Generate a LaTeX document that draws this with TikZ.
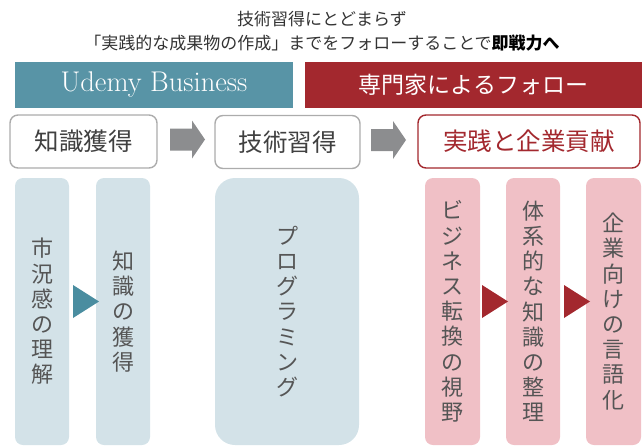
\documentclass[tikz,border=0pt]{standalone}
\usepackage{fontspec}
\newfontfamily\jp{Noto Sans CJK JP}
\usepackage{tikz}
\usetikzlibrary{positioning}
\definecolor{udemyteal}{RGB}{88,148,166}
\definecolor{followred}{RGB}{163,40,46}
\definecolor{paleteal}{RGB}{211,226,232}
\definecolor{palered}{RGB}{240,192,198}
\definecolor{triteal}{RGB}{74,141,160}
\definecolor{stepgray}{RGB}{140,141,143}
\definecolor{framegray}{RGB}{172,172,172}
\definecolor{inkgray}{RGB}{85,85,85}

\begin{document}
\begin{tikzpicture}[x=1pt, y=-1pt,
  title/.style={align=center, text=black!80, font=\jp\fontsize{17}{24}\selectfont},
  banner/.style={fill=#1, text=white, inner sep=0pt, minimum height=46pt},
  stepbox/.style={draw=#1, line width=1.4pt, rounded corners=8pt, fill=white, inner sep=0pt,
    minimum height=53pt, font=\jp\fontsize{24.5}{28}\selectfont},
  colbox/.style={fill=#1, rounded corners=8pt, inner sep=0pt, align=center, text=inkgray,
    minimum width=54pt, minimum height=267pt, font=\jp\fontsize{22}{25.2}\selectfont}]
  \useasboundingbox (0,0) rectangle (644,447);
  % heading
  \node[title] (ttl) at (322,31) {技術習得にとどまらず\\「実践的な成果物の作成」までをフォローすることで{\bfseries\color{black}即戦力へ}};
  % who follows
  \node[banner=udemyteal, minimum width=278pt, font=\fontsize{28.5}{32}\selectfont] (udemy) at (154,84.5) {Udemy Business};
  \node[banner=followred, minimum width=337pt, font=\jp\fontsize{23}{28}\selectfont] (expert) at (473.5,84.5) {専門家によるフォロー};
  % three steps
  \node[stepbox=framegray, text=black!75, minimum width=147pt] (know) at (83.5,141.5) {知識獲得};
  \node[stepbox=framegray, text=black!75, minimum width=145pt] (skill) at (287.5,142) {技術習得};
  \node[stepbox=followred, text=followred, minimum width=222pt] (contrib) at (529,141.5) {実践と企業貢献};
  \coordinate (a1) at (170,139.5);
  \coordinate (a2) at (371,140);
  \fill[stepgray] (a1) ++(0,-11) -- ++(22,0) -- ++(0,-8) -- ++(13,19) -- ++(-13,19) -- ++(0,-8) -- ++(-22,0) -- cycle;
  \fill[stepgray] (a2) ++(0,-11) -- ++(22,0) -- ++(0,-8) -- ++(13,19) -- ++(-13,19) -- ++(0,-8) -- ++(-22,0) -- cycle;
  % details
  \node[colbox=paleteal] (mkt) at (42,311.5) {市\\況\\感\\の\\理\\解};
  \node[colbox=paleteal] (learn) at (123,311.5) {知\\識\\の\\獲\\得};
  \node[colbox=paleteal, minimum width=144pt, rounded corners=20pt] (prog) at (287,311.5) {プ\\ロ\\グ\\ラ\\ミ\\ン\\グ};
  \node[colbox=palered, minimum width=55pt] (view) at (452.5,311.5) {ビ\\ジ\\ネ\\ス\\転\\換\\の\\視\\野};
  \node[colbox=palered] (order) at (533,311.5) {体\\系\\的\\な\\知\\識\\の\\整\\理};
  \node[colbox=palered, minimum width=55pt] (lang) at (613.5,311.5) {企\\業\\向\\け\\の\\言\\語\\化};
  \coordinate (t1) at (99,301.5);
  \coordinate (t2) at (508,301.5);
  \coordinate (t3) at (590,301.5);
  \fill[triteal] (t1) -- ++(-26,-16.5) -- ++(0,33) -- cycle;
  \fill[followred] (t2) -- ++(-26,-16.5) -- ++(0,33) -- cycle;
  \fill[followred] (t3) -- ++(-26,-16.5) -- ++(0,33) -- cycle;
\end{tikzpicture}
\end{document}
